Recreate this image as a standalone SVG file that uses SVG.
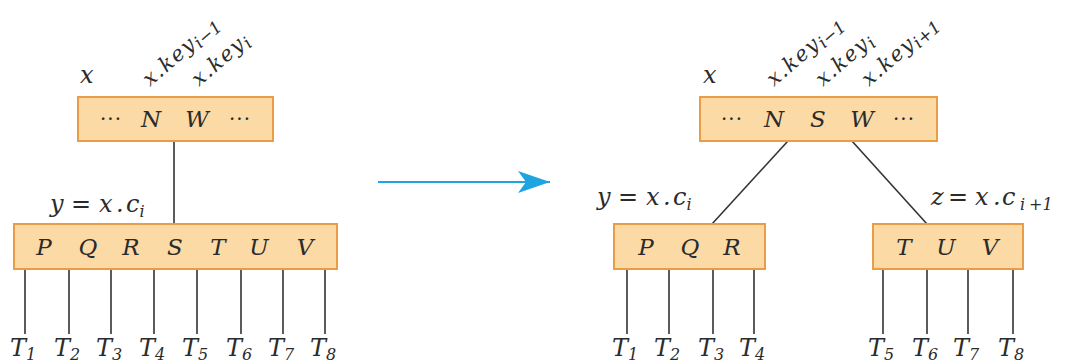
<svg xmlns="http://www.w3.org/2000/svg" width="1066" height="364" viewBox="0 0 1066 364">
<style>
.box{fill:#fcdaa6;stroke:#eb9d45;stroke-width:2}
text{font-family:'DejaVu Serif','Liberation Serif',serif;fill:#2b2b2b}
.t{font-style:italic;font-size:23px}
.L{font-style:italic;font-size:24px}
.k{font-style:italic;font-size:21px;letter-spacing:1.5px}
.d{font-size:20px;letter-spacing:1px}
.ln{stroke:#333;stroke-width:1.6;fill:none}
.sub{font-size:16px}
.ks{font-size:17px;letter-spacing:0}
</style>
<defs>
<marker id="ah" markerWidth="34" markerHeight="22" refX="32" refY="11" orient="auto" markerUnits="userSpaceOnUse">
<path d="M0,0 L32,11 L0,22 L8,11 Z" fill="#1ea4e0"/>
</marker>
</defs>

<g id="connectors">
<line class="ln" x1="174" y1="128" x2="174" y2="224"/>
<line class="ln" x1="25" y1="257" x2="25" y2="334"/>
<line class="ln" x1="69" y1="257" x2="69" y2="334"/>
<line class="ln" x1="111" y1="257" x2="111" y2="334"/>
<line class="ln" x1="154" y1="257" x2="154" y2="334"/>
<line class="ln" x1="197" y1="257" x2="197" y2="334"/>
<line class="ln" x1="241" y1="257" x2="241" y2="334"/>
<line class="ln" x1="283" y1="257" x2="283" y2="334"/>
<line class="ln" x1="325" y1="257" x2="325" y2="334"/>
<line class="ln" x1="798" y1="130" x2="712" y2="224"/>
<line class="ln" x1="842" y1="130" x2="927" y2="224"/>
<line class="ln" x1="627" y1="257" x2="627" y2="334"/>
<line class="ln" x1="669" y1="257" x2="669" y2="334"/>
<line class="ln" x1="713" y1="257" x2="713" y2="334"/>
<line class="ln" x1="754" y1="257" x2="754" y2="334"/>
<line class="ln" x1="883" y1="257" x2="883" y2="334"/>
<line class="ln" x1="927" y1="257" x2="927" y2="334"/>
<line class="ln" x1="968" y1="257" x2="968" y2="334"/>
<line class="ln" x1="1013" y1="257" x2="1013" y2="334"/>
<line x1="378" y1="182" x2="550" y2="182" stroke="#1ea4e0" stroke-width="2" marker-end="url(#ah)"/>
</g>

<g id="left-x">
<rect class="box" x="78" y="97" width="195" height="44"/>
<text class="d" x="100" y="126">···</text>
<text class="t" x="151" y="127" text-anchor="middle">N</text>
<text class="t" x="197" y="127" text-anchor="middle">W</text>
<text class="d" x="229" y="126">···</text>
<text class="L" x="80" y="83">x</text>
<text class="k" transform="translate(150,87) rotate(-41)">x.key<tspan class="ks" dy="4">i−1</tspan></text>
<text class="k" transform="translate(199,87) rotate(-41)">x.key<tspan class="ks" dy="4">i</tspan></text>
</g>

<g id="left-y">
<rect class="box" x="14" y="224" width="323" height="45"/>
<text class="t" x="44" y="255" text-anchor="middle">P</text>
<text class="t" x="88" y="255" text-anchor="middle">Q</text>
<text class="t" x="131" y="255" text-anchor="middle">R</text>
<text class="t" x="175" y="255" text-anchor="middle">S</text>
<text class="t" x="218" y="255" text-anchor="middle">T</text>
<text class="t" x="259" y="255" text-anchor="middle">U</text>
<text class="t" x="305" y="255" text-anchor="middle">V</text>
<text class="L" y="212"><tspan x="50">y</tspan><tspan x="71" font-style="normal">=</tspan><tspan x="99">x</tspan><tspan x="116">.</tspan><tspan x="126">c</tspan><tspan class="sub" dy="5">i</tspan></text>
</g>

<g id="left-subtrees">
<text class="L" x="10" y="356">T<tspan class="sub" dy="4">1</tspan></text>
<text class="L" x="54" y="356">T<tspan class="sub" dy="4">2</tspan></text>
<text class="L" x="96" y="356">T<tspan class="sub" dy="4">3</tspan></text>
<text class="L" x="139" y="356">T<tspan class="sub" dy="4">4</tspan></text>
<text class="L" x="182" y="356">T<tspan class="sub" dy="4">5</tspan></text>
<text class="L" x="226" y="356">T<tspan class="sub" dy="4">6</tspan></text>
<text class="L" x="268" y="356">T<tspan class="sub" dy="4">7</tspan></text>
<text class="L" x="310" y="356">T<tspan class="sub" dy="4">8</tspan></text>
</g>

<g id="right-x">
<rect class="box" x="700" y="97" width="237" height="44"/>
<text class="d" x="721" y="126">···</text>
<text class="t" x="774" y="127" text-anchor="middle">N</text>
<text class="t" x="818" y="127" text-anchor="middle">S</text>
<text class="t" x="862" y="127" text-anchor="middle">W</text>
<text class="d" x="893" y="126">···</text>
<text class="L" x="703" y="83">x</text>
<text class="k" transform="translate(774,87) rotate(-41)">x.key<tspan class="ks" dy="4">i−1</tspan></text>
<text class="k" transform="translate(823,87) rotate(-41)">x.key<tspan class="ks" dy="4">i</tspan></text>
<text class="k" transform="translate(869,87) rotate(-41)">x.key<tspan class="ks" dy="4">i+1</tspan></text>
</g>

<g id="right-y">
<rect class="box" x="614" y="224" width="151" height="45"/>
<text class="t" x="646" y="255" text-anchor="middle">P</text>
<text class="t" x="690" y="255" text-anchor="middle">Q</text>
<text class="t" x="732" y="255" text-anchor="middle">R</text>
<text class="L" y="205"><tspan x="597">y</tspan><tspan x="618" font-style="normal">=</tspan><tspan x="646">x</tspan><tspan x="663">.</tspan><tspan x="673">c</tspan><tspan class="sub" dy="5">i</tspan></text>
</g>

<g id="right-z">
<rect class="box" x="873" y="224" width="150" height="45"/>
<text class="t" x="904" y="255" text-anchor="middle">T</text>
<text class="t" x="946" y="255" text-anchor="middle">U</text>
<text class="t" x="990" y="255" text-anchor="middle">V</text>
<text class="L" y="205"><tspan x="931">z</tspan><tspan x="948" font-style="normal">=</tspan><tspan x="975">x</tspan><tspan x="993">.</tspan><tspan x="1002">c</tspan><tspan class="sub" dy="5" x="1020">i</tspan><tspan class="sub" x="1029">+1</tspan></text>
</g>

<g id="right-subtrees">
<text class="L" x="612" y="356">T<tspan class="sub" dy="4">1</tspan></text>
<text class="L" x="654" y="356">T<tspan class="sub" dy="4">2</tspan></text>
<text class="L" x="698" y="356">T<tspan class="sub" dy="4">3</tspan></text>
<text class="L" x="739" y="356">T<tspan class="sub" dy="4">4</tspan></text>
<text class="L" x="868" y="356">T<tspan class="sub" dy="4">5</tspan></text>
<text class="L" x="912" y="356">T<tspan class="sub" dy="4">6</tspan></text>
<text class="L" x="953" y="356">T<tspan class="sub" dy="4">7</tspan></text>
<text class="L" x="998" y="356">T<tspan class="sub" dy="4">8</tspan></text>
</g>
</svg>
